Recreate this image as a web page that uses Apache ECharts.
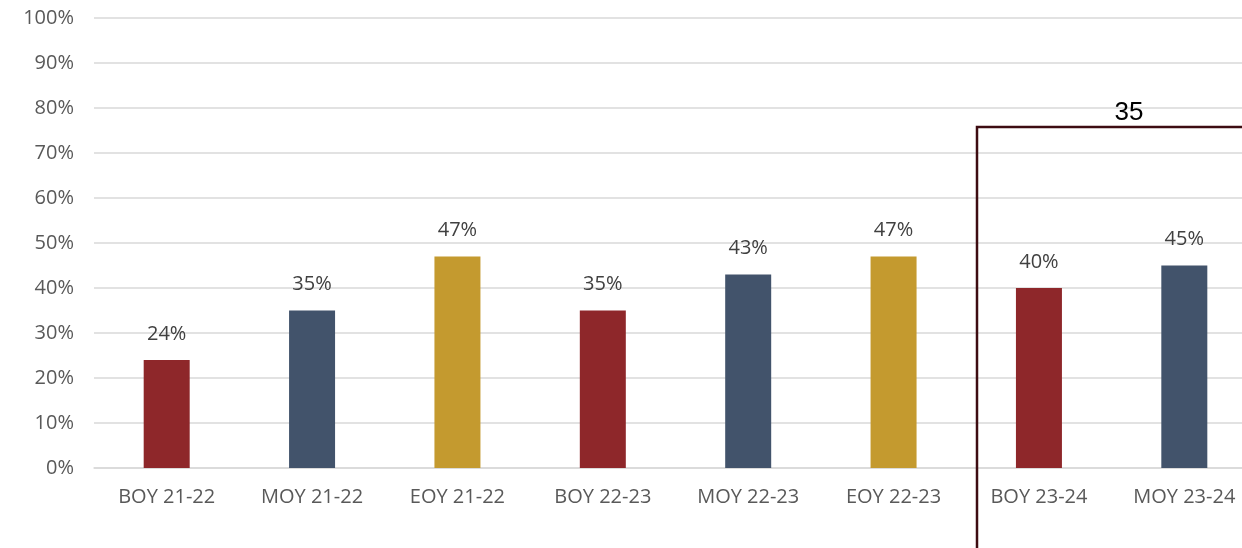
<!DOCTYPE html>
<html><head><meta charset="utf-8">
<script src="https://cdn.jsdelivr.net/npm/echarts@6/dist/echarts.min.js"></script>
<style>html,body{margin:0;padding:0;background:#fff}#c{width:1242px;height:548px}</style>
</head><body><div id="c"></div>
<script>
const categories = ['BOY 21-22','MOY 21-22','EOY 21-22','BOY 22-23','MOY 22-23','EOY 22-23','BOY 23-24','MOY 23-24'];
const values = [24, 35, 47, 35, 43, 47, 40, 45];
const barColors = ['#8e272a','#42536b','#c49a2f','#8e272a','#42536b','#c49a2f','#8e272a','#42536b'];
const yTicks = [0,10,20,30,40,50,60,70,80,90,100];
const annotationText = '35';

const chart = echarts.init(document.getElementById('c'), null, {renderer:'canvas'});
const font = '"Open Sans", Lato, "Liberation Sans", sans-serif';
chart.setOption({
  animation:false,
  grid:{left:94, width:1163, top:18, bottom:80, containLabel:false, outerBoundsMode:'none'},
  xAxis:{type:'category', data:categories,
    axisLine:{show:true, lineStyle:{color:'#d9d9d9', width:1.5}},
    axisTick:{show:false},
    axisLabel:{color:'#595959', fontSize:20, fontFamily:font, margin:19, interval:0}},
  yAxis:{type:'value', min:0, max:100, interval:10,
    axisLine:{show:false}, axisTick:{show:false},
    splitLine:{lineStyle:{color:'#d9d9d9', width:1.5}},
    axisLabel:{color:'#595959', fontSize:20, fontFamily:font, margin:20, formatter: v => v + '%'}},
  series:[{type:'bar', barWidth:46,
    data: values.map((v,i)=>({value:v, itemStyle:{color:barColors[i]}})),
    label:{show:true, position:'top', distance:16, color:'#404040', fontSize:20, fontFamily:font, formatter: p => p.value + '%'}
  }]
});
// annotation bracket
const xPos = 977, yPos = 127;
chart.setOption({graphic:[
  {type:'polyline', shape:{points:[[xPos,548],[xPos,yPos],[1242,yPos]]}, style:{stroke:'#3d0c11', lineWidth:2.5, fill:null}, z:100},
  {type:'text', x:1129, y:113, style:{text:annotationText, font:'26px "Liberation Sans", Arial, sans-serif', fill:'#000', align:'center', verticalAlign:'middle'}, z:100}
]});
</script></body></html>
